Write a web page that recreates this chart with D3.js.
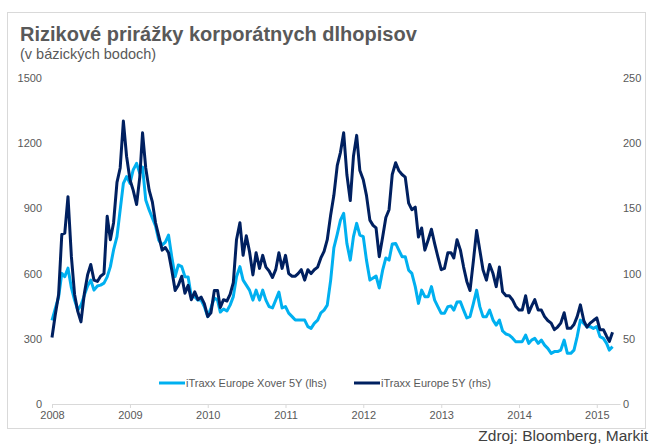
<!DOCTYPE html>
<html>
<head>
<meta charset="utf-8">
<script src="https://cdn.jsdelivr.net/npm/d3@7"></script>
<style>
  body { margin: 0; background: #fff; }
  svg { display: block; font-family: "Liberation Sans", Arial, sans-serif; }
</style>
</head>
<body>
<div id="chart"></div>
<script>
// iTraxx spreads, sampled twice a month (1st and 16th) from Jan 2008
var xover = [
  385, 437, 492, 601, 586, 625, 535, 478, 432, 455, 501, 543,
  570, 524, 543, 547, 556, 585, 632, 709, 770, 893, 1015, 1046,
  1015, 1077, 1107, 1061, 1090, 939, 893, 856, 819, 754, 731, 745,
  777, 678, 586, 640, 632, 586, 584, 494, 494, 478, 478, 448,
  402, 442, 488, 478, 423, 437, 428, 455, 494, 586, 632, 570,
  547, 524, 478, 524, 478, 524, 478, 448, 442, 478, 515, 442,
  448, 418, 402, 386, 386, 386, 386, 356, 348, 371, 386, 419,
  432, 455, 570, 718, 782, 846, 877, 739, 662, 770, 831, 777,
  770, 662, 570, 580, 589, 534, 616, 672, 662, 736, 739, 708,
  678, 678, 616, 601, 540, 463, 524, 494, 494, 540, 478, 448,
  417, 417, 448, 451, 432, 469, 470, 432, 396, 402, 463, 524,
  448, 402, 402, 432, 386, 363, 386, 336, 322, 317, 304, 287,
  287, 287, 317, 279, 294, 302, 279, 294, 271, 256, 233, 241,
  241, 248, 294, 233, 233, 248, 310, 386, 371, 356, 356, 348,
  356, 310, 302, 279, 248, 264
];

var main = [
  51, 68, 84, 130, 131, 159, 113, 84, 71, 63, 85, 99,
  107, 95, 94, 98, 100, 144, 126, 139, 170, 181, 217, 190,
  172, 164, 153, 174, 208, 181, 164, 155, 139, 129, 118, 120,
  116, 103, 87, 91, 98, 85, 91, 80, 86, 80, 82, 77,
  67, 70, 87, 87, 74, 80, 79, 84, 93, 126, 139, 114,
  129, 117, 99, 116, 104, 114, 105, 102, 97, 103, 116, 104,
  114, 100, 98, 98, 100, 103, 95, 103, 100, 103, 105, 112,
  117, 126, 145, 160, 183, 193, 208, 176, 156, 190, 206, 179,
  172, 160, 141, 137, 135, 113, 128, 143, 149, 176, 185, 179,
  176, 174, 154, 149, 151, 128, 135, 118, 126, 134, 123, 113,
  103, 104, 116, 116, 112, 126, 118, 105, 94, 87, 110, 133,
  118, 103, 95, 107, 100, 90, 105, 86, 83, 83, 80, 75,
  72, 72, 83, 70, 75, 80, 72, 72, 67, 64, 62, 57,
  59, 62, 70, 58, 58, 61, 67, 76, 64, 59, 62, 64,
  66, 57, 57, 52, 48, 55
];

var years = [2008, 2009, 2010, 2011, 2012, 2013, 2014, 2015];
var leftTicks = [0, 300, 600, 900, 1200, 1500];
var rightTicks = [0, 50, 100, 150, 200, 250];
var seriesNames = ["iTraxx Europe Xover 5Y (lhs)", "iTraxx Europe 5Y (rhs)"];
var colors = ["#00b0f0", "#002060"];

var dates = d3.range(xover.length).map(function(i) {
  return new Date(2008 + Math.floor(i / 24), Math.floor((i % 24) / 2), i % 2 ? 16 : 1);
});

var width = 649, height = 444;
var plot = {left: 52, right: 620, top: 78, bottom: 404};

var svg = d3.select("#chart").append("svg")
    .attr("width", width)
    .attr("height", height);

// frame
svg.append("rect")
    .attr("x", 7.5).attr("y", 12.5)
    .attr("width", 638).attr("height", 416)
    .attr("fill", "none")
    .attr("stroke", "#d9d9d9");

svg.append("text")
    .attr("x", 20).attr("y", 41)
    .attr("font-size", "20px")
    .attr("font-weight", "bold")
    .attr("fill", "#595959")
    .text("Rizikové prirážky korporátnych dlhopisov");

svg.append("text")
    .attr("x", 20).attr("y", 59)
    .attr("font-size", "14.5px")
    .attr("fill", "#595959")
    .text("(v bázických bodoch)");

var x = d3.scaleTime()
    .domain([new Date(2008, 0, 1), new Date(2015, 3, 20)])
    .range([plot.left, plot.right]);
var yL = d3.scaleLinear().domain([0, 1500]).range([plot.bottom, plot.top]);
var yR = d3.scaleLinear().domain([0, 250]).range([plot.bottom, plot.top]);

var xAxis = svg.append("g")
    .attr("transform", "translate(0," + plot.bottom + ")")
    .call(d3.axisBottom(x)
      .tickValues(years.map(function(y) { return new Date(y, 0, 1); }))
      .tickFormat(d3.timeFormat("%Y"))
      .tickSize(4).tickSizeOuter(0).tickPadding(3));
xAxis.select(".domain").attr("stroke", "#d9d9d9");
xAxis.selectAll(".tick line").attr("stroke", "#d9d9d9");

var leftAxis = svg.append("g")
    .attr("transform", "translate(42,0)")
    .call(d3.axisLeft(yL).tickValues(leftTicks).tickFormat(d3.format("d"))
      .tickSize(0).tickPadding(0));
leftAxis.select(".domain").remove();

var rightAxis = svg.append("g")
    .attr("transform", "translate(623,0)")
    .call(d3.axisRight(yR).tickValues(rightTicks).tickFormat(d3.format("d"))
      .tickSize(0).tickPadding(0));
rightAxis.select(".domain").remove();

svg.selectAll(".tick text")
    .attr("font-family", "Liberation Sans, Arial, sans-serif")
    .attr("font-size", "11px")
    .attr("fill", "#595959");

var lineL = d3.line()
    .x(function(d, i) { return x(dates[i]); })
    .y(function(d) { return yL(d); });
var lineR = d3.line()
    .x(function(d, i) { return x(dates[i]); })
    .y(function(d) { return yR(d); });

svg.append("path")
    .datum(xover)
    .attr("fill", "none")
    .attr("stroke", colors[0])
    .attr("stroke-width", 3)
    .attr("stroke-linejoin", "round")
    .attr("d", lineL);

svg.append("path")
    .datum(main)
    .attr("fill", "none")
    .attr("stroke", colors[1])
    .attr("stroke-width", 3)
    .attr("stroke-linejoin", "round")
    .attr("d", lineR);

// legend
var legendX = [159, 354];
var legend = svg.selectAll(".legend")
    .data(seriesNames)
  .enter().append("g")
    .attr("class", "legend")
    .attr("transform", function(d, i) { return "translate(" + legendX[i] + ",383)"; });
legend.append("line")
    .attr("x1", 0).attr("x2", 26)
    .attr("stroke", function(d, i) { return colors[i]; })
    .attr("stroke-width", 3);
legend.append("text")
    .attr("x", 27).attr("y", 4)
    .attr("font-size", "11px")
    .attr("fill", "#595959")
    .text(function(d) { return d; });

svg.append("text")
    .attr("x", 648).attr("y", 441)
    .attr("text-anchor", "end")
    .attr("font-size", "15.5px")
    .attr("fill", "#404040")
    .text("Zdroj: Bloomberg, Markit");
</script>
</body>
</html>
